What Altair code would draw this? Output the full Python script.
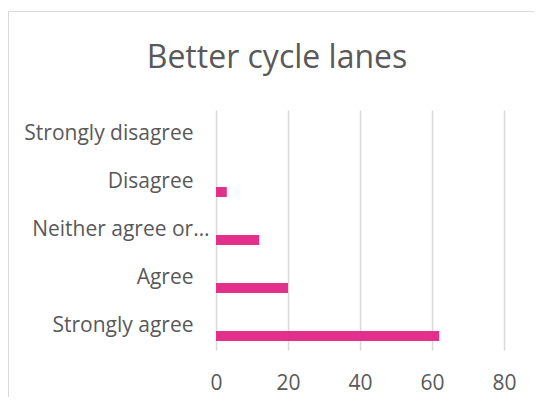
import altair as alt
import pandas as pd

categories = ["Strongly disagree", "Disagree", "Neither agree or disagree", "Agree", "Strongly agree"]
values = [0, 3, 12, 20, 62]
x_ticks = [0, 20, 40, 60, 80]

df = pd.DataFrame({"response": categories, "count": values})

TEXT = "#595959"
GRID = "#d9d9d9"
FONT = "Open Sans"

bars = alt.Chart(df).mark_bar(height=10, yOffset=10, color="#E3308D").encode(
    x=alt.X(
        "count:Q",
        scale=alt.Scale(domain=[0, 80], nice=False),
        axis=alt.Axis(
            values=x_ticks, title=None, domain=False, ticks=False,
            labelPadding=22, labelFontSize=21, labelColor=TEXT, labelFont=FONT,
            grid=True, gridColor=GRID, gridWidth=1.5, labelFlush=False,
        ),
    ),
    y=alt.Y(
        "response:N",
        sort=categories,
        scale=alt.Scale(paddingInner=0, paddingOuter=0),
        axis=alt.Axis(
            title=None, domain=False, ticks=False, grid=False,
            labelFontSize=21, labelColor=TEXT, labelFont=FONT, labelLimit=400,
            labelExpr="datum.value == 'Neither agree or disagree' ? 'Neither agree or\u2026' : datum.value",
            labelPadding={"condition": {"test": "datum.value == 'Neither agree or disagree'", "value": 7}, "value": 23},
        ),
    ),
)

one = pd.DataFrame({"k": [0]})
border_v = alt.Chart(one).mark_rule(color=GRID, strokeWidth=1).encode(
    x=alt.value(-207.5), y=alt.value(-98.5), y2=alt.value(300)
)
border_h = alt.Chart(one).mark_rule(color=GRID, strokeWidth=1).encode(
    x=alt.value(-207.5), x2=alt.value(400), y=alt.value(-98.5)
)

chart = alt.layer(border_v, border_h, bars).properties(
    width=288,
    height=240,
    background="white",
    autosize=alt.AutoSizeParams(type="none"),
    padding={"left": 208, "top": 102, "right": 30, "bottom": 47},
    title=alt.TitleParams(
        "Better cycle lanes", fontSize=32, font=FONT, fontWeight="normal",
        color=TEXT, anchor="middle", frame="group", dx=-83, offset=0, dy=89,
        baseline="alphabetic",
    ),
).configure_view(stroke=None)

chart.save("out.html", embed_options={"renderer": "svg", "actions": False})
